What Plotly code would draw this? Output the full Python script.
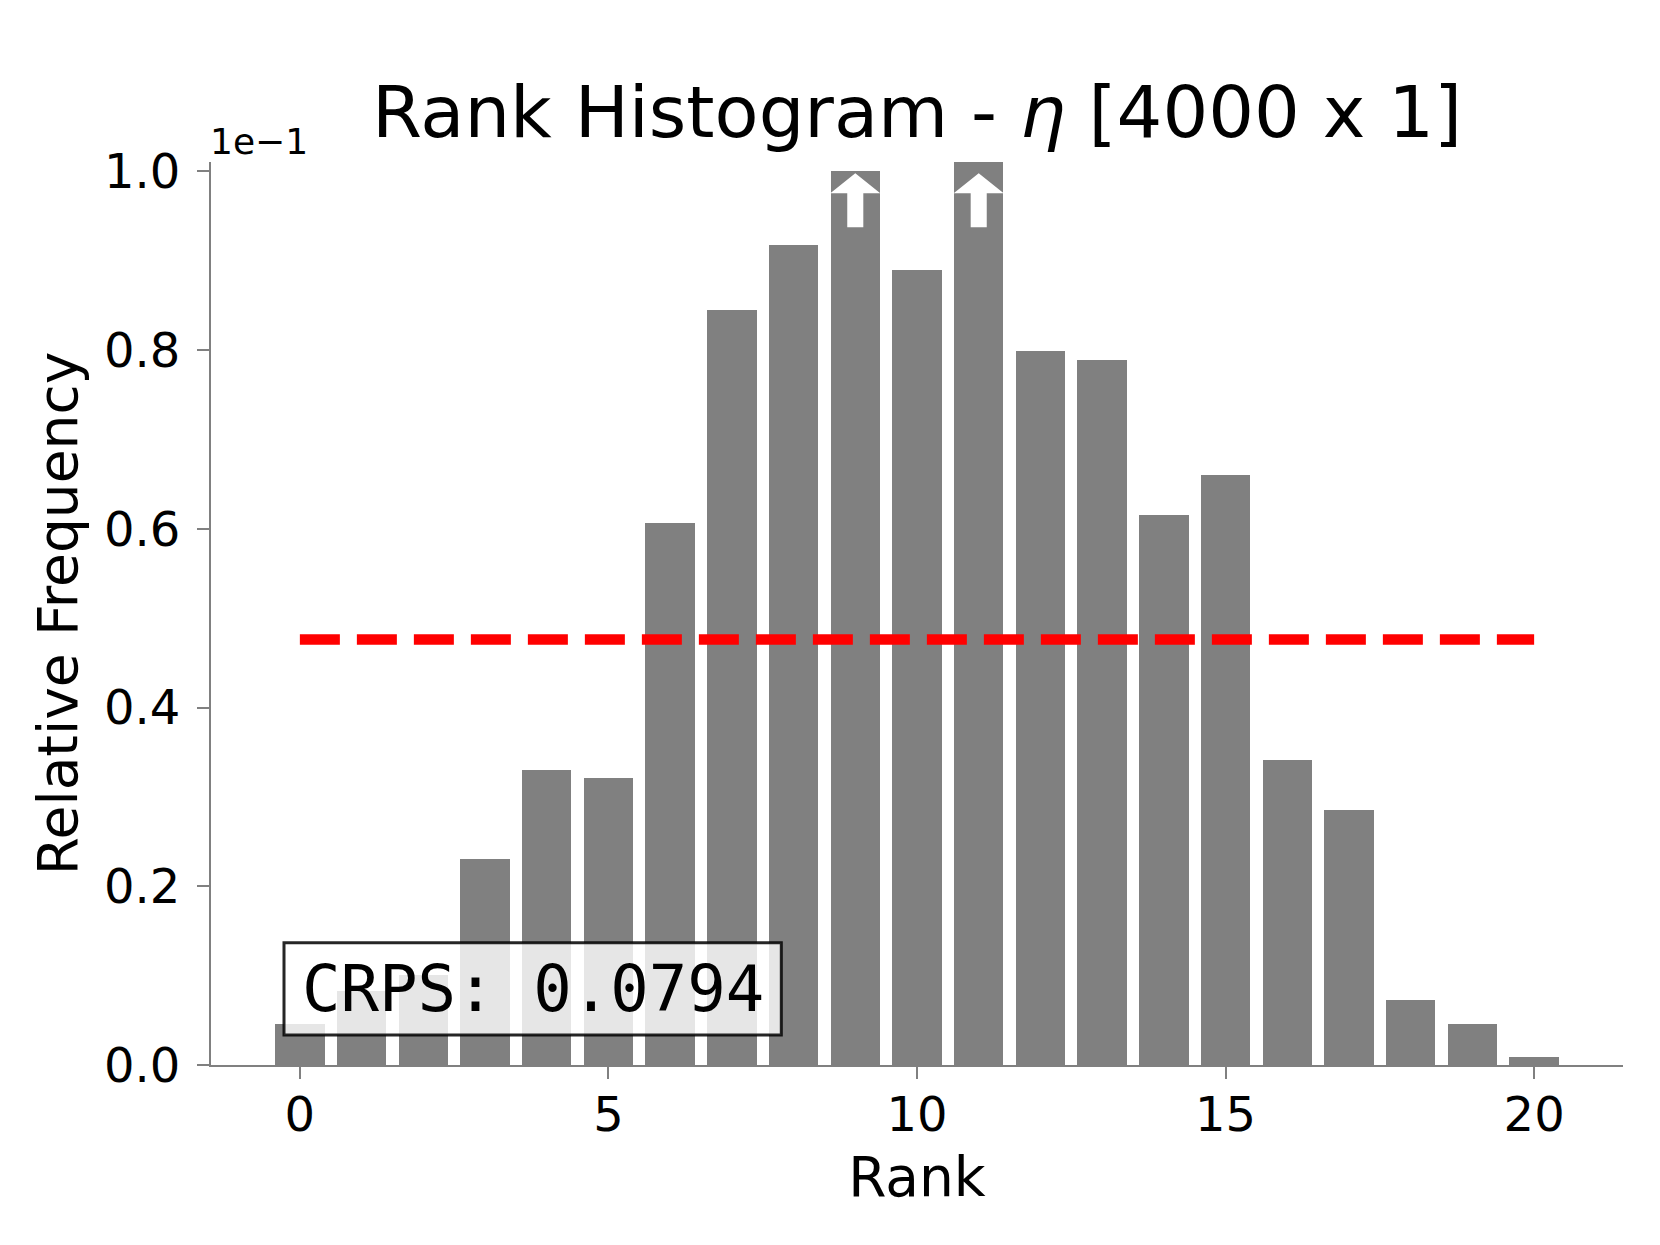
import plotly.graph_objects as go

# rank histogram values (relative frequency)
ranks = list(range(21))
rel_freq = [0.00455, 0.00827, 0.01005, 0.0230, 0.0330, 0.0321, 0.0606, 0.0845,
            0.0918, 0.1000, 0.0890, 0.1010, 0.0799, 0.0789, 0.0615, 0.0660,
            0.0341, 0.0285, 0.0073, 0.0046, 0.0009]
n_ens = 4000
crps = 0.0794
y_ticks = [0.0, 0.2, 0.4, 0.6, 0.8, 1.0]

scale = 1e-1                      # offset shown as "1e-1" above the axis
y_top = 1.0104                    # upper y limit (scaled units)
uniform = 1.0 / len(ranks) / scale

bar_y = [f / scale for f in rel_freq]

GRAY = '#808080'
FONT = 'DejaVu Sans'

fig = go.Figure()

fig.add_trace(go.Bar(x=ranks, y=bar_y, width=0.8,
                     marker=dict(color=GRAY, line=dict(width=0)),
                     showlegend=False))

# expected frequency for a flat histogram
fig.add_trace(go.Scatter(x=[ranks[0], ranks[-1]], y=[uniform, uniform],
                         mode='lines',
                         line=dict(color='red', width=10.5, dash='40px,17px'),
                         showlegend=False))

shapes = []
# white arrows on bars that reach the top of the axis
for r, v in zip(ranks, bar_y):
    if v >= 1.0:
        hw, sw = 0.405, 0.13
        tip, base, tail = 0.9978, 0.9754, 0.9374
        path = ('M {a},{b} L {c},{d} L {e},{b} L {e2},{b} L {e2},{t} '
                'L {a2},{t} L {a2},{b} Z').format(
            a=r - hw, b=base, c=r, d=tip, e=r + hw, e2=r + sw, a2=r - sw, t=tail)
        shapes.append(dict(type='path', path=path, xref='x', yref='y',
                           fillcolor='white', line=dict(width=0), layer='above'))

# CRPS box
shapes.append(dict(type='rect', xref='paper', yref='paper',
                   x0=0.0517, x1=0.4039, y0=0.0332, y1=0.1354,
                   fillcolor='rgba(255,255,255,0.8)',
                   line=dict(color='rgba(0,0,0,0.85)', width=3), layer='above'))

annotations = [
    dict(text='CRPS: {:.4f}'.format(crps), xref='paper', yref='paper',
         x=0.2278, y=0.0843, xanchor='center', yanchor='middle', showarrow=False,
         font=dict(family='DejaVu Sans Mono', size=64, color='black')),
    dict(text='1e\u22121', xref='paper', yref='paper', x=0, y=1,
         xanchor='left', yanchor='bottom', xshift=-3, yshift=-2, showarrow=False,
         font=dict(family=FONT, size=36, color='black')),
]

# the page body adds an 8px offset, so margins are shifted by that
fig.update_layout(
    width=1660, height=1245,
    margin=dict(l=202.7, r=45.3, t=153.7, b=188, pad=0),
    paper_bgcolor='white', plot_bgcolor='white',
    font=dict(family=FONT, color='black'),
    title=dict(text='Rank Histogram - <i>\u03b7</i> [{} x 1]'.format(n_ens),
               font=dict(family=FONT, size=72, color='black'),
               x=0.5, xref='paper', xanchor='center',
               y=1 - 104 / 1245, yref='container', yanchor='middle'),
    shapes=shapes, annotations=annotations,
    bargap=0,
)

fig.update_xaxes(range=[-1.44, 21.44], tickvals=[0, 5, 10, 15, 20],
                 showgrid=False, zeroline=False,
                 showline=True, linecolor=GRAY, linewidth=2,
                 ticks='outside', ticklen=12, tickwidth=2, tickcolor=GRAY,
                 ticklabelstandoff=-6,
                 tickfont=dict(family=FONT, size=48, color='black'),
                 title=dict(text='Rank', standoff=17,
                            font=dict(family=FONT, size=55, color='black')))

fig.update_yaxes(range=[0, y_top], tickvals=y_ticks,
                 ticktext=['{:.1f}'.format(t) for t in y_ticks],
                 showgrid=False, zeroline=False,
                 showline=True, linecolor=GRAY, linewidth=2,
                 ticks='outside', ticklen=12, tickwidth=2, tickcolor=GRAY,
                 ticklabelstandoff=7,
                 tickfont=dict(family=FONT, size=48, color='black'),
                 title=dict(text='Relative Frequency', standoff=9,
                            font=dict(family=FONT, size=55, color='black')))

fig.write_html('out.html')
